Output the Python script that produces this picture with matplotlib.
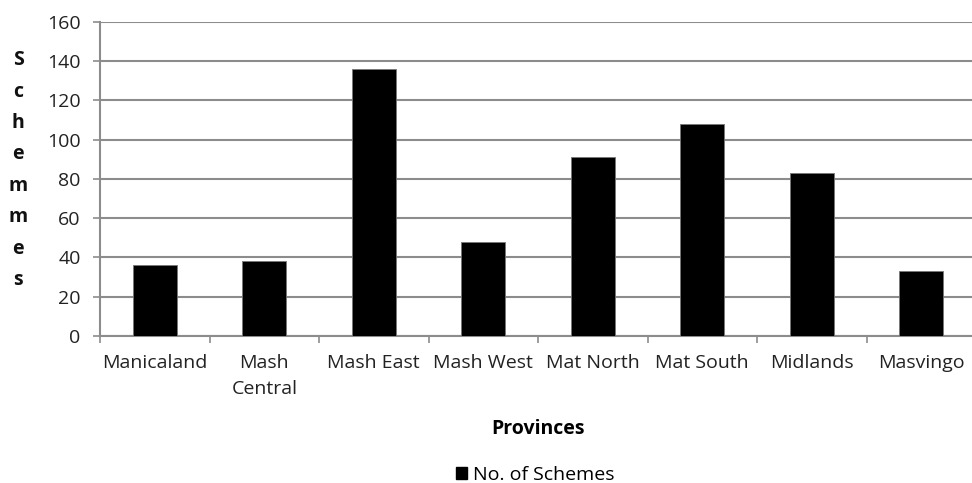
import matplotlib
matplotlib.use("Agg")
import matplotlib.pyplot as plt
import numpy as np
from matplotlib.patches import Patch

provinces = ["Manicaland", "Mash\nCentral", "Mash East", "Mash West",
             "Mat North", "Mat South", "Midlands", "Masvingo"]
schemes = [36, 38, 136, 48, 91, 108, 83, 33]
yticks = [0, 20, 40, 60, 80, 100, 120, 140, 160]

plt.rcParams['font.family'] = ['Open Sans', 'DejaVu Sans']
FS = 14

fig = plt.figure(figsize=(9.72, 4.83), dpi=100)
ax = fig.add_axes([100/972, 1-336/483, 876/972, (336-21.7)/483])

x = np.arange(len(provinces))
ax.bar(x, schemes, width=0.4, color='black', edgecolor='#777777', linewidth=0.6, zorder=3)

ax.set_xlim(-0.5, len(provinces) - 0.5)
ax.set_ylim(0, 160)
ax.set_yticks(yticks)
ax.set_yticklabels([str(v) for v in yticks], fontsize=FS, color='#222222')
ax.yaxis.grid(True, color='#8c8c8c', linewidth=1.5, zorder=0)
ax.set_axisbelow(True)

ax.set_xticks(x)
ax.set_xticklabels(provinces, fontsize=FS, color='#222222', linespacing=1.6, va='top')
ax.set_xticks(np.arange(len(provinces) + 1) - 0.5, minor=True)
ax.tick_params(axis='x', which='major', length=0, pad=13)
ax.tick_params(axis='x', which='minor', length=5, color='#8c8c8c', width=1.2)
ax.tick_params(axis='y', length=5, color='#8c8c8c', width=1.2, pad=9)

for s in ['top', 'right']:
    ax.spines[s].set_visible(False)
for s in ['left', 'bottom']:
    ax.spines[s].set_color('#8c8c8c')
    ax.spines[s].set_linewidth(1.5)

ax.set_xlabel("Provinces", fontsize=FS, fontweight='bold', labelpad=15)

fig.text(18/972, 1-170/483, "S\nc\nh\ne\nm\nm\ne\ns", ha='center', va='center',
         fontsize=FS, fontweight='bold', linespacing=1.76, color='#111111')

handles = [Patch(facecolor='black', edgecolor='black', label='No. of Schemes')]
fig.legend(handles=handles, loc='center', bbox_to_anchor=(535/972, 1-475/483),
           frameon=False, fontsize=FS, handlelength=0.6, handleheight=0.6,
           handletextpad=0.3)

fig.savefig("out.png", dpi=100)
